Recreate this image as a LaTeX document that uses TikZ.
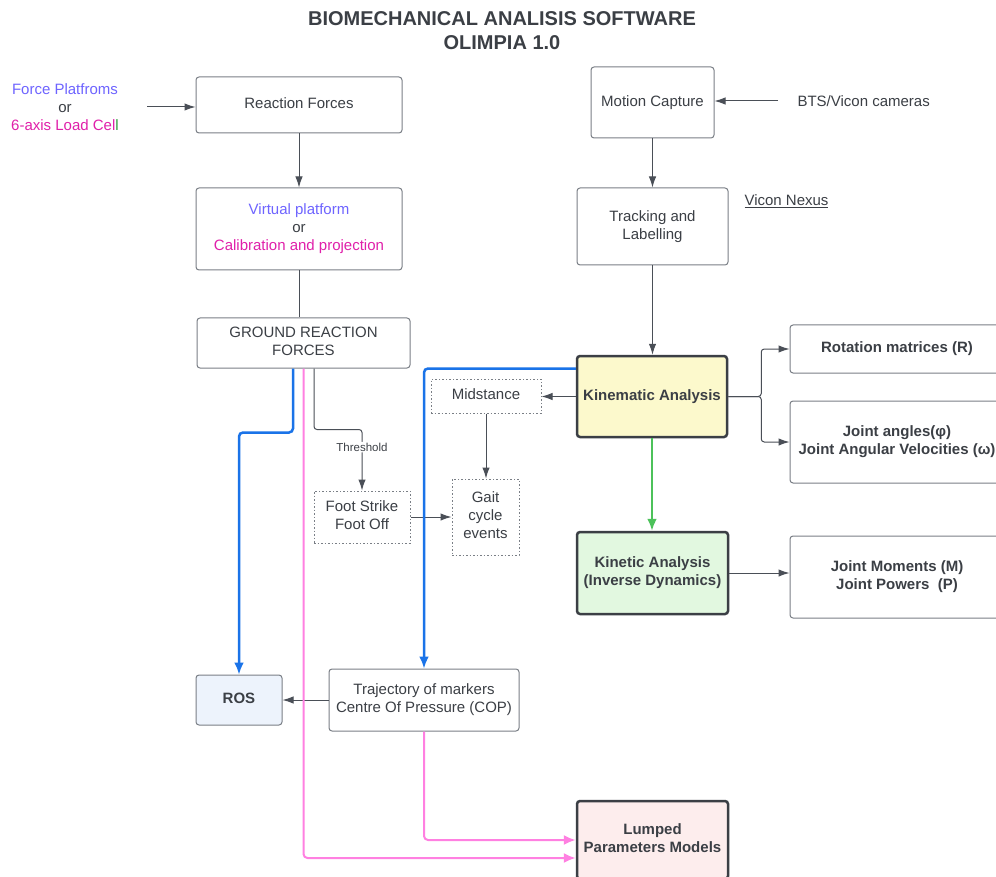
\documentclass[tikz,border=0pt]{standalone}
\usepackage{fontspec}
\setmainfont{Liberation Sans}
\usepackage{tikz}
\usetikzlibrary{calc}
\usetikzlibrary{arrows.meta}
\usetikzlibrary{positioning}
\usepackage{color}
\definecolor{ink}{RGB}{59, 63, 69}
\definecolor{edge}{RGB}{122, 127, 134}
\definecolor{wire}{RGB}{74, 79, 87}
\definecolor{flowblue}{RGB}{26, 115, 232}
\definecolor{flowpink}{RGB}{255, 128, 225}
\definecolor{flowgreen}{RGB}{76, 194, 90}
\definecolor{platblue}{RGB}{110, 100, 255}
\definecolor{loadpink}{RGB}{224, 32, 170}
\definecolor{cellgreen}{RGB}{46, 158, 62}
\definecolor{kinyellow}{RGB}{252, 249, 204}
\definecolor{kingreen}{RGB}{226, 248, 224}
\definecolor{rosblue}{RGB}{237, 243, 252}
\definecolor{lumppink}{RGB}{253, 237, 237}
\tikzset{
  box/.style    ={draw=edge, line width=1pt, rounded corners=3pt, align=center, inner sep=0pt, fill=white, text depth=3pt},
  keybox/.style ={draw=ink, line width=2.5pt, rounded corners=3pt, align=center, inner sep=0pt, text depth=3pt, font=\fontsize{15}{18}\selectfont\bfseries},
  dotbox/.style ={draw=edge, line width=1pt, dash pattern=on 1.5pt off 2pt, align=center, inner sep=0pt, text depth=3pt},
  flow/.style   ={draw=wire, line width=1pt, -{Latex[length=11pt,width=7.5pt]}},
  plain/.style  ={draw=wire, line width=1pt},
  blueflow/.style ={draw=flowblue, line width=2.5pt, rounded corners=4pt, -{Latex[length=12pt,width=10pt]}},
  pinkflow/.style ={draw=flowpink, line width=2pt, rounded corners=4pt, -{Latex[length=12pt,width=10pt]}},
  greenflow/.style={draw=flowgreen, line width=2.5pt, -{Latex[length=12pt,width=10pt]}},
}
\begin{document}
\begin{tikzpicture}[x=1pt, y=-1pt, font=\fontsize{15}{18}\selectfont, text=ink]
  \useasboundingbox (0,0) rectangle (996,877);
  \clip (0,0) rectangle (996,877);
  \fill[white] (0,0) rectangle (996,877);

  % title
  \node[align=center, font=\fontsize{20}{24}\selectfont\bfseries] (title) at (502,31) {BIOMECHANICAL ANALISIS SOFTWARE\\OLIMPIA 1.0};

  % force branch
  \node[align=center] (src) at (65,107) {{\color{platblue}Force Platfroms}\\or\\{\color{loadpink}6-axis Load Cel}{\color{cellgreen}l}};
  \coordinate (srcend) at (147,107);
  \node[box, minimum width=206, minimum height=56] (react) at (299,105)   {Reaction Forces};
  \node[box, minimum width=206, minimum height=82] (virt)  at (299,229)   {{\color{platblue}Virtual platform}\\or\\{\color{loadpink}Calibration and projection}};
  \node[box, minimum width=213, minimum height=50] (grf)   at (303.5,343) {GROUND REACTION\\FORCES};

  % gait events
  \node[dotbox, minimum width=110, minimum height=34] (mid)  at (486,396) {Midstance};
  \node[dotbox, minimum width=96,  minimum height=52] (foot) at (362,517) {Foot Strike\\Foot Off};
  \node[dotbox, minimum width=67,  minimum height=76] (gait) at (485.5,517) {Gait\\cycle\\events};

  % motion branch
  \node[box, minimum width=123, minimum height=71] (mocap) at (652.5,102.5) {Motion Capture};
  \node[anchor=west] (cams) at (794,101) {BTS/Vicon cameras};
  \coordinate (camsend) at (778,101);
  \node[box, minimum width=151, minimum height=77] (track) at (652.5,226.5) {Tracking and\\Labelling};
  \node[anchor=west] (nexus) at (741,201) {\underline{Vicon Nexus}};

  % analysis
  \node[keybox, fill=kinyellow, minimum width=150, minimum height=81] (kin)    at (652,396.5) {Kinematic Analysis};
  \node[keybox, fill=kingreen,  minimum width=151, minimum height=82] (kinet)  at (652.5,573) {Kinetic Analysis\\(Inverse Dynamics)};
  \node[box, minimum width=214, minimum height=48, font=\fontsize{15}{18}\selectfont\bfseries] (rot)  at (897,349) {Rotation matrices (R)};
  \node[box, minimum width=214, minimum height=82, font=\fontsize{15}{18}\selectfont\bfseries] (ang)  at (897,442) {Joint angles(φ)\\Joint Angular Velocities (ω)};
  \node[box, minimum width=214, minimum height=82, font=\fontsize{15}{18}\selectfont\bfseries] (mom)  at (897,577) {Joint Moments (M)\\Joint Powers\ \ (P)};

  % outputs
  \node[box, fill=rosblue, minimum width=86, minimum height=50, font=\fontsize{15}{18}\selectfont\bfseries] (ros) at (239,700) {ROS};
  \node[box, minimum width=190, minimum height=62] (traj) at (424,700) {Trajectory of markers\\Centre Of Pressure (COP)};
  \node[keybox, fill=lumppink, minimum width=151, minimum height=78] (lump) at (652.5,840) {Lumped\\Parameters Models};

  % connectors
  \draw[flow]  (srcend) -- (react.west |- srcend);
  \draw[flow]  (react.south) -- (virt.north);
  \draw[plain] (virt.south) -- (virt.south |- grf.north);
  \draw[flow]  (camsend) -- (mocap.east |- camsend);
  \draw[flow]  (mocap.south) -- (track.north);
  \draw[flow]  (track.south) -- (track.south |- kin.north);
  \draw[greenflow] (kin.south) -- (kin.south |- kinet.north);
  \draw[flow]  (kinet.east) -- (kinet.east -| mom.west);
  \draw[flow, rounded corners=3pt] (kin.east) -- ++(33,0) |- (rot.west);
  \draw[flow, rounded corners=3pt] (kin.east) -- ++(33,0) |- (ang.west);
  \draw[flow]  (kin.west) -- (kin.west -| mid.east);
  \draw[flow]  (mid.south) -- (mid.south |- gait.north);
  \draw[flow]  (foot.east) -- (foot.east -| gait.west);
  \draw[flow, rounded corners=3pt] ([xshift=10.5]grf.south) -- ++(0,61) -| node[pos=0.645, fill=white, inner sep=1pt, font=\fontsize{11.5}{13}\selectfont] (thr) {Threshold} (foot.north);
  \draw[flow]  (traj.west) -- (traj.west -| ros.east);
  \draw[blueflow] ([xshift=-10.5]grf.south) -- ++(0,64) -| (ros.north);
  \draw[blueflow] ([yshift=28]kin.west) -| (traj.north);
  \draw[pinkflow] (grf.south) |- ([yshift=-18]lump.west);
  \draw[pinkflow] (traj.south) |- (lump.west);
\end{tikzpicture}
\end{document}
